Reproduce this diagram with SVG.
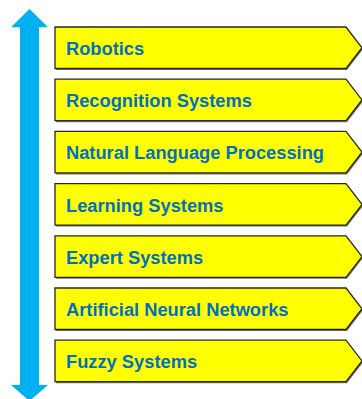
<svg xmlns="http://www.w3.org/2000/svg" width="362" height="399" viewBox="0 0 362 399">
<style>
.box{fill:#FFFF00;stroke:#262626;stroke-width:1.3}
.sh{fill:#707070}
.t{font-family:"Liberation Sans",Arial,sans-serif;font-weight:bold;font-size:18.3px;fill:#0070C0}
</style>
<defs>
<polygon id="tag" points="55,0 346,0 362,20.75 346,41.5 55,41.5"/>
</defs>
<g id="connectors">
<polygon id="arrow" points="29.5,9 48,27.3 39,27.3 39,385 48,385 29.5,401 11,385 20,385 20,27.3 11,27.3" fill="#00B0F0"/>
</g>
<g id="n1" transform="translate(0,27)"><use href="#tag" class="sh" x="1" y="1.5"/><use href="#tag" class="box"/><text class="t" x="66" y="28">Robotics</text></g>
<g id="n2" transform="translate(0,79.2)"><use href="#tag" class="sh" x="1" y="1.5"/><use href="#tag" class="box"/><text class="t" x="66" y="28">Recognition Systems</text></g>
<g id="n3" transform="translate(0,131.4)"><use href="#tag" class="sh" x="1" y="1.5"/><use href="#tag" class="box"/><text class="t" x="66" y="28">Natural Language Processing</text></g>
<g id="n4" transform="translate(0,183.6)"><use href="#tag" class="sh" x="1" y="1.5"/><use href="#tag" class="box"/><text class="t" x="66" y="28">Learning Systems</text></g>
<g id="n5" transform="translate(0,235.8)"><use href="#tag" class="sh" x="1" y="1.5"/><use href="#tag" class="box"/><text class="t" x="66" y="28">Expert Systems</text></g>
<g id="n6" transform="translate(0,288)"><use href="#tag" class="sh" x="1" y="1.5"/><use href="#tag" class="box"/><text class="t" x="66" y="28">Artificial Neural Networks</text></g>
<g id="n7" transform="translate(0,340.2)"><use href="#tag" class="sh" x="1" y="1.5"/><use href="#tag" class="box"/><text class="t" x="66" y="28">Fuzzy Systems</text></g>
</svg>
